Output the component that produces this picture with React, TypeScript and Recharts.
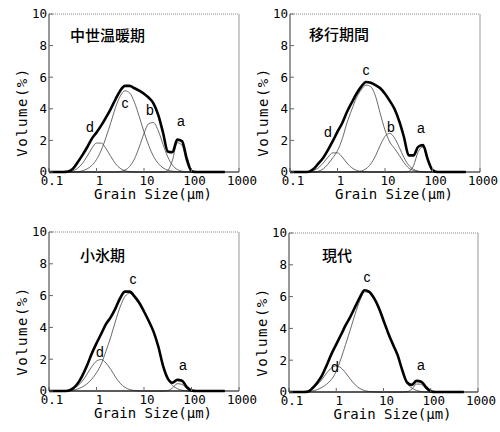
import { LineChart, Line, XAxis, YAxis, ReferenceLine } from "recharts";

// grain size grid (µm), 0.1 decade steps from 0.1 to 500
const sizes = [
  0.1, 0.126, 0.158, 0.2, 0.251, 0.316, 0.398, 0.501, 0.631, 0.794,
  1, 1.26, 1.58, 2, 2.51, 3.16, 3.98, 5.01, 6.31, 7.94,
  10, 12.6, 15.8, 20, 25.1, 31.6, 39.8, 50.1, 63.1, 79.4,
  100, 126, 158, 200, 251, 316, 398, 501,
];

const xTicks = [0.1, 1, 10, 100, 1000];
const yTicks = [0, 2, 4, 6, 8, 10];

// 中世温暖期
const warmTotal = [0, 0, 0, 0, 0.03, 0.2, 0.6, 1.05, 1.55, 2.1, 2.5, 2.95, 3.45, 4.0, 4.6, 5.15, 5.45, 5.45, 5.3, 5.15, 4.95, 4.7, 4.35, 3.6, 2.5, 1.3, 1.25, 2.05, 1.95, 0.85, 0.05, 0, 0, 0, 0, 0, 0, 0];
const warmD = [0, 0, 0, 0, 0.02, 0.08, 0.23, 0.53, 0.98, 1.49, 1.83, 1.83, 1.49, 0.98, 0.53, 0.23, 0.08, 0.02, 0, 0, 0, 0, 0, 0, 0, 0, 0, 0, 0, 0, 0, 0, 0, 0, 0, 0, 0, 0];
const warmC = [0, 0, 0, 0, 0, 0, 0, 0.08, 0.19, 0.41, 0.79, 1.38, 2.18, 3.12, 4.07, 4.8, 5.14, 5.0, 4.4, 3.51, 2.54, 1.67, 1.0, 0.54, 0.26, 0.12, 0.05, 0.02, 0, 0, 0, 0, 0, 0, 0, 0, 0, 0];
const warmB = [0, 0, 0, 0, 0, 0, 0, 0, 0, 0, 0, 0, 0, 0, 0, 0.03, 0.12, 0.36, 0.83, 1.58, 2.44, 3.06, 3.13, 2.6, 1.76, 0.96, 0.43, 0.16, 0.05, 0.01, 0, 0, 0, 0, 0, 0, 0, 0];
const warmA = [0, 0, 0, 0, 0, 0, 0, 0, 0, 0, 0, 0, 0, 0, 0, 0, 0, 0, 0, 0, 0, 0, 0, 0, 0, 0.1, 0.75, 1.85, 1.7, 0.6, 0.08, 0, 0, 0, 0, 0, 0, 0];

// 移行期間
const transTotal = [0, 0, 0, 0, 0.02, 0.2, 0.55, 0.9, 1.4, 1.95, 2.55, 3.1, 3.8, 4.4, 4.95, 5.4, 5.7, 5.65, 5.5, 5.3, 4.95, 4.5, 4.0, 3.2, 2.2, 1.05, 1.05, 1.6, 1.7, 0.8, 0.12, 0, 0, 0, 0, 0, 0, 0];
const transD = [0, 0, 0, 0.01, 0.03, 0.1, 0.27, 0.57, 0.94, 1.21, 1.21, 0.94, 0.57, 0.27, 0.1, 0.03, 0.01, 0, 0, 0, 0, 0, 0, 0, 0, 0, 0, 0, 0, 0, 0, 0, 0, 0, 0, 0, 0, 0];
const transC = [0, 0, 0, 0, 0, 0, 0.05, 0.2, 0.5, 0.9, 1.35, 2.1, 3.1, 3.95, 4.7, 5.2, 5.5, 5.4, 4.8, 3.7, 2.65, 1.9, 1.5, 1.05, 0.6, 0.25, 0.1, 0.03, 0, 0, 0, 0, 0, 0, 0, 0, 0, 0];
const transB = [0, 0, 0, 0, 0, 0, 0, 0, 0, 0, 0, 0, 0, 0, 0.01, 0.06, 0.2, 0.51, 1.02, 1.69, 2.25, 2.45, 2.16, 1.56, 0.91, 0.43, 0.17, 0.05, 0.01, 0, 0, 0, 0, 0, 0, 0, 0, 0];
const transA = [0, 0, 0, 0, 0, 0, 0, 0, 0, 0, 0, 0, 0, 0, 0, 0, 0, 0, 0, 0, 0, 0, 0, 0, 0, 0.04, 0.39, 1.29, 1.58, 0.71, 0.12, 0.01, 0, 0, 0, 0, 0, 0];

// 小氷期
const iceTotal = [0, 0, 0, 0, 0.02, 0.15, 0.45, 0.95, 1.6, 2.35, 3.0, 3.6, 4.2, 4.65, 5.2, 5.85, 6.25, 6.25, 5.95, 5.55, 5.0, 4.4, 3.75, 2.8, 1.6, 0.8, 0.52, 0.7, 0.65, 0.25, 0.03, 0, 0, 0, 0, 0, 0, 0];
const iceD = [0, 0, 0, 0.02, 0.05, 0.13, 0.31, 0.62, 1.06, 1.53, 1.88, 1.98, 1.76, 1.35, 0.88, 0.48, 0.23, 0.09, 0.03, 0.01, 0, 0, 0, 0, 0, 0, 0, 0, 0, 0, 0, 0, 0, 0, 0, 0, 0, 0];
const iceC = [0, 0, 0, 0, 0.02, 0.05, 0.12, 0.25, 0.45, 0.75, 1.15, 1.7, 2.5, 3.4, 4.4, 5.3, 5.95, 6.15, 5.85, 5.45, 4.95, 4.35, 3.7, 2.75, 1.6, 0.75, 0.35, 0.15, 0.05, 0.01, 0, 0, 0, 0, 0, 0, 0, 0];
const iceA = [0, 0, 0, 0, 0, 0, 0, 0, 0, 0, 0, 0, 0, 0, 0, 0, 0, 0, 0, 0, 0, 0, 0, 0, 0, 0.03, 0.19, 0.46, 0.42, 0.14, 0.02, 0, 0, 0, 0, 0, 0, 0];

// 現代
const nowTotal = [0, 0, 0, 0, 0.02, 0.25, 0.6, 1.05, 1.7, 2.4, 3.0, 3.6, 4.2, 4.75, 5.35, 5.95, 6.4, 6.3, 5.9, 5.3, 4.5, 3.7, 3.0, 2.3, 1.35, 0.6, 0.45, 0.7, 0.65, 0.3, 0.05, 0, 0, 0, 0, 0, 0, 0];
const nowD = [0, 0, 0.01, 0.03, 0.09, 0.22, 0.46, 0.8, 1.2, 1.52, 1.65, 1.52, 1.2, 0.8, 0.46, 0.22, 0.09, 0.03, 0.01, 0, 0, 0, 0, 0, 0, 0, 0, 0, 0, 0, 0, 0, 0, 0, 0, 0, 0, 0];
const nowC = [0, 0, 0, 0.01, 0.03, 0.07, 0.15, 0.3, 0.5, 0.8, 1.3, 2.1, 3.0, 3.95, 4.9, 5.75, 6.3, 6.25, 5.85, 5.25, 4.45, 3.65, 2.95, 2.3, 1.35, 0.55, 0.25, 0.1, 0.03, 0, 0, 0, 0, 0, 0, 0, 0, 0];
const nowA = [0, 0, 0, 0, 0, 0, 0, 0, 0, 0, 0, 0, 0, 0, 0, 0, 0, 0, 0, 0, 0, 0, 0, 0, 0, 0.02, 0.18, 0.5, 0.49, 0.18, 0.02, 0, 0, 0, 0, 0, 0, 0];

type Series = { key: string; values: number[] };
type Letter = { text: string; x: number; y: number };
type Panel = {
  title: string;
  titlePos: { x: number; y: number };
  box: { x: number; y: number; w: number; h: number };
  margin: { top: number; right: number; bottom: number; left: number };
  total: number[];
  parts: Series[];
  letters: Letter[];
};

const panels: Panel[] = [
  {
    title: "中世温暖期",
    titlePos: { x: 70, y: 27 },
    box: { x: 0, y: 0, w: 250, h: 214 },
    margin: { top: 14, right: 11, bottom: 12, left: 9 },
    total: warmTotal,
    parts: [
      { key: "d", values: warmD },
      { key: "c", values: warmC },
      { key: "b", values: warmB },
      { key: "a", values: warmA },
    ],
    letters: [
      { text: "d", x: 90, y: 127 },
      { text: "c", x: 125, y: 103 },
      { text: "b", x: 150, y: 110 },
      { text: "a", x: 181, y: 121 },
    ],
  },
  {
    title: "移行期間",
    titlePos: { x: 309, y: 26 },
    box: { x: 241, y: 0, w: 259, h: 214 },
    margin: { top: 14, right: 20, bottom: 12, left: 9 },
    total: transTotal,
    parts: [
      { key: "d", values: transD },
      { key: "c", values: transC },
      { key: "b", values: transB },
      { key: "a", values: transA },
    ],
    letters: [
      { text: "d", x: 328, y: 132 },
      { text: "c", x: 366, y: 70 },
      { text: "b", x: 391, y: 127 },
      { text: "a", x: 421, y: 128 },
    ],
  },
  {
    title: "小氷期",
    titlePos: { x: 80, y: 247 },
    box: { x: 0, y: 218, w: 250, h: 214 },
    margin: { top: 14, right: 11, bottom: 11, left: 9 },
    total: iceTotal,
    parts: [
      { key: "d", values: iceD },
      { key: "c", values: iceC },
      { key: "a", values: iceA },
    ],
    letters: [
      { text: "d", x: 100, y: 352 },
      { text: "c", x: 133, y: 279 },
      { text: "a", x: 183, y: 365 },
    ],
  },
  {
    title: "現代",
    titlePos: { x: 322, y: 247 },
    box: { x: 240, y: 219, w: 260, h: 213 },
    margin: { top: 14, right: 22, bottom: 10, left: 9 },
    total: nowTotal,
    parts: [
      { key: "d", values: nowD },
      { key: "c", values: nowC },
      { key: "a", values: nowA },
    ],
    letters: [
      { text: "d", x: 335, y: 367 },
      { text: "c", x: 367, y: 277 },
      { text: "a", x: 421, y: 365 },
    ],
  },
];

const mono = "'DejaVu Sans Mono', monospace";

function GrainPanel({ p }: { p: Panel }) {
  const rows = sizes.map((size, i) => {
    const r: Record<string, number> = { size, total: p.total[i] };
    p.parts.forEach((s) => (r[s.key] = s.values[i]));
    return r;
  });
  const plotLeft = p.box.x + p.margin.left + 40;
  const plotW = p.box.w - p.margin.left - 40 - p.margin.right;
  const plotTop = p.box.y + p.margin.top;
  const plotH = p.box.h - p.margin.top - p.margin.bottom - 30;

  return (
    <>
      <div style={{ position: "absolute", left: p.box.x, top: p.box.y }}>
        <LineChart width={p.box.w} height={p.box.h} data={rows} margin={p.margin}>
          <XAxis
            dataKey="size"
            type="number"
            scale="log"
            domain={[0.1, 1000]}
            ticks={xTicks}
            allowDataOverflow
            interval={0}
            height={30}
            tickSize={-4}
            tickMargin={8}
            axisLine={{ stroke: "#000" }}
            tickLine={{ stroke: "#666" }}
            tick={{ fill: "#000", fontSize: 12.5, fontFamily: mono, dx: 3 }}
            tickFormatter={(v) => String(v)}
          />
          <YAxis
            type="number"
            domain={[0, 10]}
            ticks={yTicks}
            interval={0}
            width={40}
            tickSize={-4}
            tickMargin={6}
            axisLine={{ stroke: "#333" }}
            tickLine={{ stroke: "#666" }}
            tick={{ fill: "#000", fontSize: 12.5, fontFamily: mono }}
          />
          {/* frame: dotted top, grey right */}
          <ReferenceLine y={10} stroke="#888" strokeDasharray="1 1" ifOverflow="visible" />
          <ReferenceLine x={1000} stroke="#999" ifOverflow="visible" />
          {p.parts.map((s) => (
            <Line
              key={s.key}
              dataKey={s.key}
              type="monotone"
              dot={false}
              stroke="#444"
              strokeWidth={0.8}
              isAnimationActive={false}
            />
          ))}
          <Line
            dataKey="total"
            type="monotone"
            dot={false}
            stroke="#000"
            strokeWidth={2.6}
            isAnimationActive={false}
          />
        </LineChart>
      </div>
      <div
        style={{
          position: "absolute",
          left: p.titlePos.x,
          top: p.titlePos.y,
          fontFamily: "'Noto Sans CJK JP', sans-serif",
          fontSize: 15,
          fontWeight: 500,
          lineHeight: "15px",
          whiteSpace: "nowrap",
        }}
      >
        {p.title}
      </div>
      {p.letters.map((l) => (
        <div
          key={l.text}
          style={{
            position: "absolute",
            left: l.x,
            top: l.y,
            transform: "translate(-50%, -50%)",
            fontFamily: "'Liberation Sans', Arial, sans-serif",
            fontSize: 14,
            lineHeight: "14px",
          }}
        >
          {l.text}
        </div>
      ))}
      <div
        style={{
          position: "absolute",
          left: plotLeft + plotW / 2 + 9,
          top: plotTop + plotH + 21.5,
          transform: "translate(-50%, -50%)",
          fontFamily: mono,
          fontSize: 14,
          lineHeight: "14px",
          whiteSpace: "nowrap",
        }}
      >
        Grain Size(μm)
      </div>
      <div
        style={{
          position: "absolute",
          left: plotLeft - 27.5,
          top: plotTop + plotH / 2 + 19,
          transform: "translate(-50%, -50%) rotate(-90deg)",
          fontFamily: mono,
          fontSize: 14,
          letterSpacing: 1.5,
          lineHeight: "14px",
          whiteSpace: "nowrap",
        }}
      >
        Volume(%)
      </div>
    </>
  );
}

export default function App() {
  return (
    <div style={{ position: "relative", width: 500, height: 432, background: "#fff", overflow: "hidden" }}>
      <style>{`body{margin:0} .recharts-surface{overflow:visible}`}</style>
      {panels.map((p) => (
        <GrainPanel key={p.title} p={p} />
      ))}
    </div>
  );
}
